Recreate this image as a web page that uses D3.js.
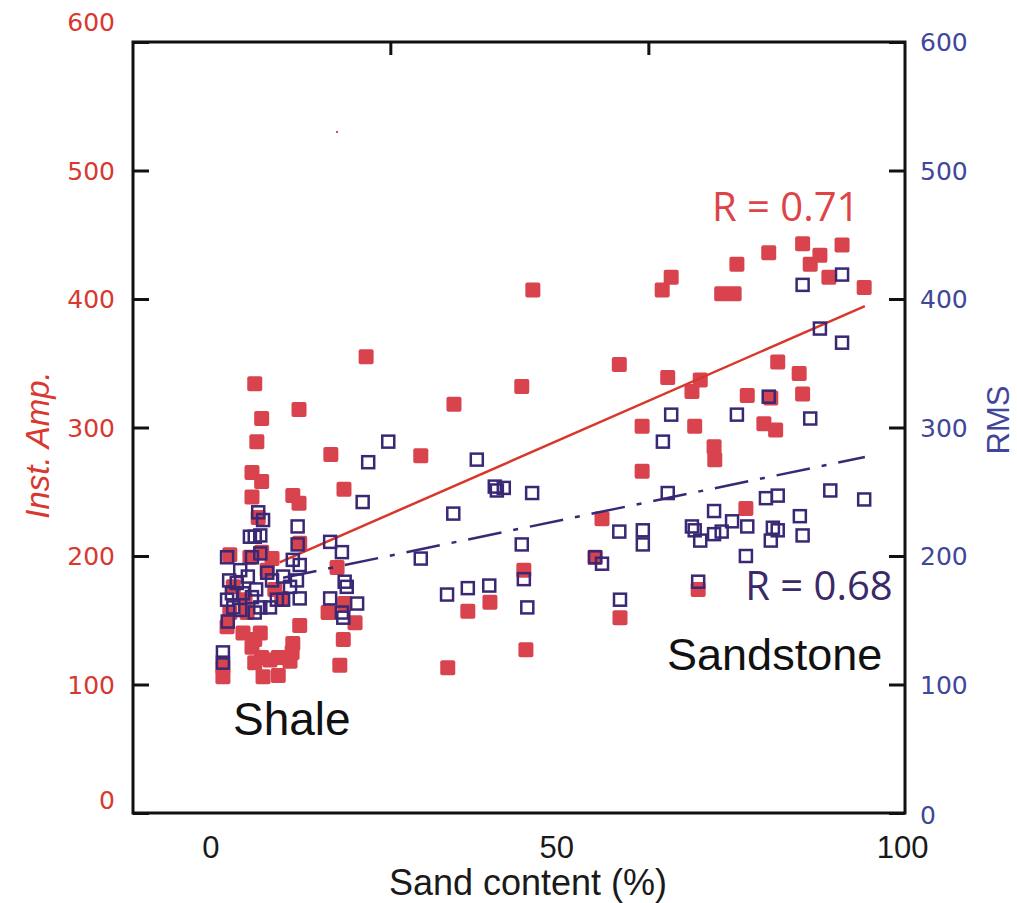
<!DOCTYPE html>
<html>
<head>
<meta charset="utf-8">
<title>Sand content vs amplitude</title>
<script src="https://d3js.org/d3.v7.min.js"></script>
<style>
body { margin: 0; background: #fff; }
svg { display: block; }
</style>
</head>
<body>
<svg width="1017" height="903"></svg>
<script>

// sand content (%) and instantaneous amplitude, red filled squares
var ampSand = [46.6,59.1,66.1,66.6,65.3,76.1,80.7,85.6,91.3,88.1,86.7,89.4,94.5,73.9,75.7,82.0,85.1,85.6,77.6,81.0,
  70.8,69.6,62.4,70.0,80.0,81.7,72.8,72.9,62.4,35.2,45.0,30.4,56.6,77.4,55.6,45.3,70.5,40.4,37.2,34.3,45.6,59.2,
  22.5,12.8,17.4,19.3,6.4,7.4,6.7,6.0,7.4,6.0,11.9,12.8,6.9,12.9,7.4,2.8,5.7,8.9,9.3,10.3,12.9,17.0,19.4,18.3,20.9,
  19.2,18.7,2.4,2.8,4.7,6.4,6.0,7.4,8.6,11.8,11.9,11.5,1.8,1.8,7.2,5.3,3.3,5.0,9.8,9.8,7.6,6.4,8.2];
var ampValue = [407,349,339,417,407,427,436,443,442,434,427,417,409,404,404,351,342,326,325,323,
  337,328,301,301,303,298,285,275,266,318,332,278,229,237,199,189,174,164,157,113,127,152,
  355,314,279,252,334,307,289,265,258,246,247,241,230,210,203,201,199,198,174,167,146,156,163,191,148,
  135,115,145,156,140,135,129,121,119,125,132,118,114,106,140,156,176,166,121,107,106,117,189];

// sand content (%) and RMS amplitude, blue open squares
var rmsSand = [91.3,85.6,88.1,91.3,80.7,66.6,76.1,86.7,65.4,25.7,22.8,38.5,41.1,42.4,41.4,46.5,35.1,30.4,45.0,66.1,
  80.3,82.0,89.6,94.5,72.8,75.4,85.2,69.6,70.0,70.8,72.8,73.9,77.6,81.3,82.0,81.0,85.6,59.1,62.5,62.5,77.4,55.6,
  56.6,70.5,59.2,45.3,45.8,34.2,37.2,40.3,22.0,17.3,19.0,19.4,19.7,17.3,21.2,19.0,19.2,11.9,12.6,12.6,12.9,2.4,
  2.5,1.8,1.8,6.9,7.6,6.4,7.2,6.0,7.2,8.9,10.5,12.5,12.9,11.5,4.3,5.4,3.8,3.1,4.7,6.0,7.2,8.6,4.3,6.4,9.6,3.3,
  8.2,10.5,2.4,2.7,6.6,5.7];
var rmsValue = [419,411,377,366,324,310,310,307,289,289,273,275,254,253,251,249,233,198,209,249,
  245,247,251,244,235,227,231,223,220,212,217,219,223,222,220,212,216,219,220,209,200,199,
  194,180,166,182,160,170,175,177,242,211,203,180,176,167,163,156,152,197,223,209,193,199,
  149,125,117,234,228,215,216,199,202,181,184,181,167,176,189,184,179,171,171,168,160,160,158,156,166,160,
  187,166,166,181,174,215];

// stray mark in the source figure
var speck = [[18.3, 530]];

// fitted lines [sand, value]
var ampFit = [[10, 195], [94.6, 394.5]];
var rmsFit = [[10.5, 183], [94.6, 277]];

var ampTicks = [0, 100, 200, 300, 400, 500, 600];
var rmsTicks = [0, 100, 200, 300, 400, 500, 600];
var sandTicks = [0, 50, 100];
var topTicks = [26, 63.3];

var svg = d3.select("svg");

var x = d3.scaleLinear().domain([-11.2, 100.4]).range([133, 905]);
var y = d3.scaleLinear().domain([0, 600]).range([813, 42]);

var red = "#d9434e", redLine = "#d8372a", redText = "#d8382f";
var navy = "#3a2874", navyText = "#40479a";

svg.append("rect").attr("width", 1017).attr("height", 903).attr("fill", "#fff");

// red points
var sq = 15;
svg.append("g").selectAll("rect")
  .data(d3.zip(ampSand, ampValue))
  .enter().append("rect")
    .attr("x", function(d) { return x(d[0]) - sq / 2; })
    .attr("y", function(d) { return y(d[1]) - sq / 2; })
    .attr("width", sq).attr("height", sq)
    .attr("rx", 2)
    .attr("fill", red);

svg.append("g").selectAll("rect")
  .data(speck)
  .enter().append("rect")
    .attr("x", function(d) { return x(d[0]) - 1; })
    .attr("y", function(d) { return y(d[1]) - 1; })
    .attr("width", 2).attr("height", 2)
    .attr("fill", red);

var line = d3.line().x(function(d) { return x(d[0]); }).y(function(d) { return y(d[1]); });

svg.append("path")
  .attr("d", line(ampFit))
  .attr("fill", "none")
  .attr("stroke", redLine)
  .attr("stroke-width", 2.5);

svg.append("path")
  .attr("d", line(rmsFit))
  .attr("fill", "none")
  .attr("stroke", navy)
  .attr("stroke-width", 2.5)
  .attr("stroke-dasharray", "34 12 5 12");

// blue open squares
var bs = 12;
svg.append("g").selectAll("rect")
  .data(d3.zip(rmsSand, rmsValue))
  .enter().append("rect")
    .attr("x", function(d) { return x(d[0]) - bs / 2; })
    .attr("y", function(d) { return y(d[1]) - bs / 2; })
    .attr("width", bs).attr("height", bs)
    .attr("fill", "none")
    .attr("stroke", navy)
    .attr("stroke-width", 2.5);

// frame
svg.append("rect")
  .attr("x", x.range()[0]).attr("y", y.range()[1])
  .attr("width", x.range()[1] - x.range()[0])
  .attr("height", y.range()[0] - y.range()[1])
  .attr("fill", "none")
  .attr("stroke", "#111")
  .attr("stroke-width", 3);

// left axis (Inst. Amp.)
var gl = svg.append("g")
  .attr("transform", "translate(" + x.range()[0] + ",0)")
  .call(d3.axisLeft(y).tickValues(ampTicks).tickSize(-16).tickPadding(18));
gl.select(".domain").remove();
gl.selectAll(".tick line").attr("stroke", "#111").attr("stroke-width", 3);
gl.selectAll(".tick text")
  .attr("fill", redText)
  .attr("font-family", "DejaVu Sans, sans-serif")
  .attr("font-size", 25)
  .attr("dy", function(d) { return d === 600 ? "-0.45em" : d === 0 ? "-0.2em" : "0.35em"; });

// right axis (RMS)
var gr = svg.append("g")
  .attr("transform", "translate(" + x.range()[1] + ",0)")
  .call(d3.axisRight(y).tickValues(rmsTicks).tickSize(-16).tickPadding(15));
gr.select(".domain").remove();
gr.selectAll(".tick line").attr("stroke", "#111").attr("stroke-width", 3);
gr.selectAll(".tick text")
  .attr("fill", navyText)
  .attr("font-family", "DejaVu Sans, sans-serif")
  .attr("font-size", 25)
  .attr("dy", function(d) { return d === 0 ? "0.4em" : "0.35em"; });

// top ticks
var gt = svg.append("g")
  .attr("transform", "translate(0," + y.range()[1] + ")")
  .call(d3.axisTop(x).tickValues(topTicks).tickSize(-13).tickFormat(""));
gt.select(".domain").remove();
gt.selectAll(".tick line").attr("stroke", "#111").attr("stroke-width", 3);

// bottom labels
var gb = svg.append("g")
  .attr("transform", "translate(0," + y.range()[0] + ")")
  .call(d3.axisBottom(x).tickValues(sandTicks).tickSize(0).tickPadding(23));
gb.select(".domain").remove();
gb.selectAll(".tick text")
  .attr("fill", "#1a1a1a")
  .attr("font-family", "Liberation Sans Narrow, Arial Narrow, sans-serif")
  .attr("font-size", 31);

// axis titles
svg.append("text")
  .attr("x", 528).attr("y", 895)
  .attr("text-anchor", "middle")
  .attr("font-family", "Liberation Sans, Arial, sans-serif")
  .attr("font-size", 36)
  .attr("fill", "#1a1a1a")
  .text("Sand content (%)");

svg.append("text")
  .attr("transform", "translate(49,445) rotate(-90)")
  .attr("text-anchor", "middle")
  .attr("font-family", "Liberation Sans, Arial, sans-serif")
  .attr("font-style", "italic")
  .attr("font-size", 33)
  .attr("fill", redText)
  .text("Inst. Amp.");

svg.append("text")
  .attr("transform", "translate(1009,420) rotate(-90)")
  .attr("text-anchor", "middle")
  .attr("font-family", "Liberation Sans, Arial, sans-serif")
  .attr("font-size", 31)
  .attr("fill", navyText)
  .text("RMS");

// annotations
svg.append("text")
  .attr("x", x(72.5)).attr("y", y(461))
  .attr("font-family", "Open Sans, sans-serif")
  .attr("font-size", 40)
  .attr("fill", "#dd4448")
  .text("R = 0.71");

svg.append("text")
  .attr("x", x(77.3)).attr("y", y(165.5))
  .attr("font-family", "Open Sans, sans-serif")
  .attr("font-size", 40)
  .attr("fill", "#3a2a6a")
  .text("R = 0.68");

svg.append("text")
  .attr("x", x(66)).attr("y", y(111))
  .attr("font-family", "Liberation Sans, Arial, sans-serif")
  .attr("font-size", 45)
  .attr("fill", "#111")
  .text("Sandstone");

svg.append("text")
  .attr("x", x(3.25)).attr("y", y(60.7))
  .attr("font-family", "Liberation Sans, Arial, sans-serif")
  .attr("font-size", 46)
  .attr("fill", "#111")
  .text("Shale");

</script>
</body>
</html>
